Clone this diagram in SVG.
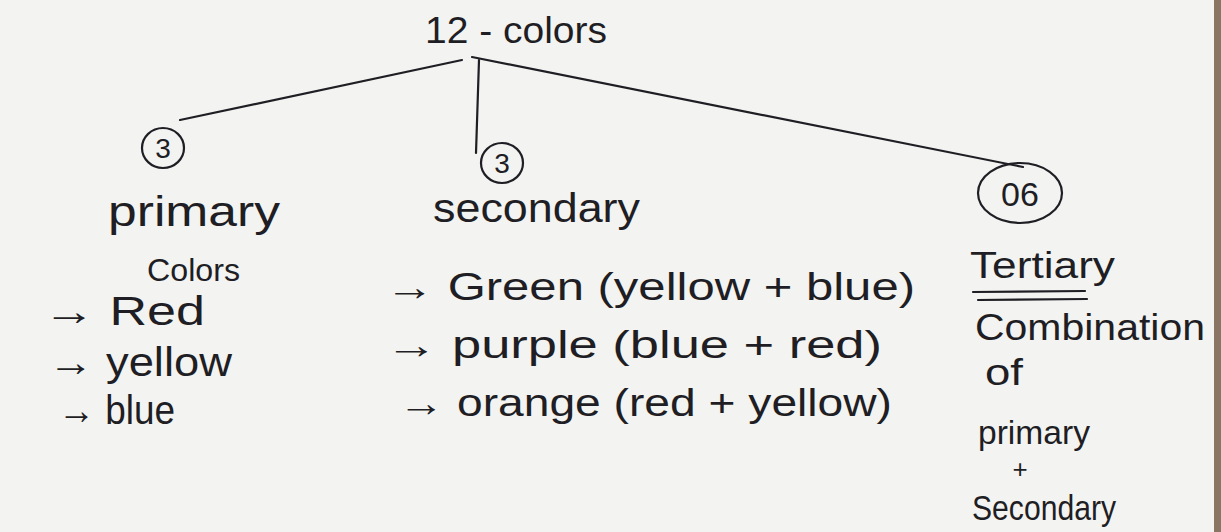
<svg xmlns="http://www.w3.org/2000/svg" width="1221" height="532" viewBox="0 0 1221 532">
<style>
.t{font-family:"Liberation Sans","DejaVu Sans",sans-serif;fill:#1e1e24;}
.ln{stroke:#1e1e24;stroke-width:2.2;fill:none;stroke-linecap:round;}
.c{stroke:#1e1e24;stroke-width:2.2;fill:none;}
</style>
<rect x="0" y="0" width="1221" height="532" fill="#f3f3f1"/>
<rect x="1214" y="0" width="7" height="532" fill="#8a7564"/>
<g id="connectors">
<path class="ln" d="M462,60 L180,120"/>
<path class="ln" d="M479,60 L476,153"/>
<path class="ln" d="M472,57 L1023,167"/>
</g>
<g id="root">
<text class="t" x="425" y="43" font-size="36" textLength="182" lengthAdjust="spacingAndGlyphs">12 - colors</text>
</g>
<g id="primary">
<ellipse class="c" cx="163" cy="148" rx="21" ry="20"/>
<text class="t" x="163" y="158" font-size="28" text-anchor="middle">3</text>
<text class="t" x="108" y="226" font-size="42" textLength="172" lengthAdjust="spacingAndGlyphs">primary</text>
<text class="t" x="147" y="281" font-size="32" textLength="93" lengthAdjust="spacingAndGlyphs">Colors</text>
<text class="t" x="43" y="325" font-size="40" textLength="162" lengthAdjust="spacingAndGlyphs">→ Red</text>
<text class="t" x="48" y="376" font-size="40" textLength="184" lengthAdjust="spacingAndGlyphs">→ yellow</text>
<text class="t" x="58" y="424" font-size="40" textLength="117" lengthAdjust="spacingAndGlyphs">→ blue</text>
</g>
<g id="secondary">
<ellipse class="c" cx="502" cy="163" rx="21" ry="20"/>
<text class="t" x="502" y="173" font-size="28" text-anchor="middle">3</text>
<text class="t" x="433" y="222" font-size="40" textLength="207" lengthAdjust="spacingAndGlyphs">secondary</text>
<text class="t" x="385" y="300" font-size="38" textLength="530" lengthAdjust="spacingAndGlyphs">→ Green (yellow + blue)</text>
<text class="t" x="385" y="358" font-size="38" textLength="497" lengthAdjust="spacingAndGlyphs">→ purple (blue + red)</text>
<text class="t" x="398" y="416" font-size="38" textLength="494" lengthAdjust="spacingAndGlyphs">→ orange (red + yellow)</text>
</g>
<g id="tertiary">
<ellipse class="c" cx="1020" cy="193" rx="42" ry="30"/>
<text class="t" x="1020" y="206" font-size="34" text-anchor="middle">06</text>
<text class="t" x="970" y="278" font-size="36" textLength="145" lengthAdjust="spacingAndGlyphs">Tertiary</text>
<path class="ln" d="M973,292 L1085,291"/>
<path class="ln" d="M978,300 L1087,299"/>
<text class="t" x="975" y="340" font-size="36" textLength="230" lengthAdjust="spacingAndGlyphs">Combination</text>
<text class="t" x="985" y="385" font-size="36" textLength="38" lengthAdjust="spacingAndGlyphs">of</text>
<text class="t" x="978" y="444" font-size="34" textLength="112" lengthAdjust="spacingAndGlyphs">primary</text>
<text class="t" x="1020" y="478" font-size="26" text-anchor="middle">+</text>
<text class="t" x="972" y="520" font-size="35" textLength="144" lengthAdjust="spacingAndGlyphs">Secondary</text>
</g>
</svg>
